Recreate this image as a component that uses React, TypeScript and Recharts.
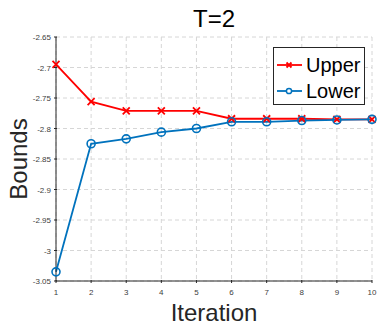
import { LineChart, Line, XAxis, YAxis, CartesianGrid, Legend, Label } from 'recharts'

/* ─── Data ─── */

const iterations = [1, 2, 3, 4, 5, 6, 7, 8, 9, 10]
const upperBound = [-2.695, -2.756, -2.771, -2.771, -2.771, -2.784, -2.784, -2.784, -2.785, -2.785]
const lowerBound = [-3.035, -2.825, -2.817, -2.806, -2.8, -2.789, -2.789, -2.787, -2.786, -2.785]
const seriesNames = ['Upper', 'Lower']
const xTicks = [1, 2, 3, 4, 5, 6, 7, 8, 9, 10]
const yTicks = [-3.05, -3, -2.95, -2.9, -2.85, -2.8, -2.75, -2.7, -2.65]

const data = iterations.map((it, i) => ({ it, upper: upperBound[i], lower: lowerBound[i] }))

/* ─── Styles ─── */

const FONT = '"Liberation Sans", Arial, Helvetica, sans-serif'
const AXIS = '#262626'
const RED = '#ff0000'
const BLUE = '#0072bd'

function fmtY(v: number): string {
  return String(Number(v.toFixed(2)))
}

/* ─── Ticks (inward, MATLAB style) ─── */

function LeftTick({ x, y, payload }: any) {
  return (
    <g>
      <line x1={x} y1={y} x2={x + 3} y2={y} stroke={AXIS} />
      <text x={x - 3} y={y} dy={3} textAnchor="end" fontSize={8} fontFamily={FONT} fill="#404040">
        {fmtY(payload.value)}
      </text>
    </g>
  )
}

function RightTick({ x, y }: any) {
  return <line x1={x - 3} y1={y} x2={x} y2={y} stroke={AXIS} />
}

function BottomTick({ x, y, payload }: any) {
  return (
    <g>
      <line x1={x} y1={y} x2={x} y2={y - 3} stroke={AXIS} />
      <text x={x} y={y} dy={12} textAnchor="middle" fontSize={8} fontFamily={FONT} fill="#404040">
        {payload.value}
      </text>
    </g>
  )
}

function TopTick({ x, y }: any) {
  return <line x1={x} y1={y} x2={x} y2={y + 3} stroke={AXIS} />
}

/* ─── Markers ─── */

function CrossDot({ cx, cy }: any) {
  if (cx == null || cy == null) return null
  const s = 3.5
  return (
    <path
      d={`M${cx - s},${cy - s}L${cx + s},${cy + s}M${cx - s},${cy + s}L${cx + s},${cy - s}`}
      stroke={RED}
      strokeWidth={1.8}
      fill="none"
    />
  )
}

/* ─── Legend ─── */

function LegendBox({ payload }: any) {
  const items = [...(payload || [])].sort(
    (a: any, b: any) => seriesNames.indexOf(a.value) - seriesNames.indexOf(b.value)
  )
  return (
    <div
      style={{
        width: 92,
        height: 58,
        boxSizing: 'border-box',
        border: `1px solid ${AXIS}`,
        background: '#fff',
        paddingTop: 4,
        fontFamily: FONT,
        fontSize: 20,
        color: '#000',
      }}
    >
      {items.map((p: any) => (
        <div key={p.value} style={{ display: 'flex', alignItems: 'center', height: 26 }}>
          <svg width={30} height={12} style={{ marginLeft: 2 }}>
            <line x1={1} y1={6} x2={26} y2={6} stroke={p.color} strokeWidth={1.8} />
            {p.value === 'Upper' ? (
              <path d="M10.5,3.5L15.5,8.5M10.5,8.5L15.5,3.5" stroke={p.color} strokeWidth={1.8} />
            ) : (
              <circle cx={13} cy={6} r={2.6} stroke={p.color} strokeWidth={1.5} fill="#fff" />
            )}
          </svg>
          <span style={{ lineHeight: '20px' }}>{p.value}</span>
        </div>
      ))}
    </div>
  )
}

/* ─── Main ─── */

export default function App() {
  return (
    <div style={{ position: 'absolute', left: 0, top: 0, width: 382, height: 327, background: '#fff' }}>
      <div
        style={{
          position: 'absolute',
          left: 56,
          width: 316,
          top: 6,
          textAlign: 'center',
          fontFamily: FONT,
          fontSize: 24,
          lineHeight: '26px',
          color: '#000',
          zIndex: 1,
        }}
      >
        T=2
      </div>
      <LineChart width={382} height={327} data={data} margin={{ top: 37, right: 10, bottom: 0, left: 0 }}>
        <CartesianGrid strokeDasharray="4 3" stroke="#d6d6d6" />
        <XAxis
          dataKey="it"
          type="number"
          domain={[1, 10]}
          ticks={xTicks}
          height={46}
          tickSize={0}
          tick={<BottomTick />}
          axisLine={{ stroke: AXIS }}
          tickLine={false}
        >
          <Label value="Iteration" position="insideBottom" offset={6} fontSize={24} fontFamily={FONT} fill="#262626" />
        </XAxis>
        <XAxis
          xAxisId="top"
          orientation="top"
          type="number"
          domain={[1, 10]}
          ticks={xTicks}
          height={0}
          tickSize={0}
          tick={<TopTick />}
          axisLine={{ stroke: AXIS }}
          tickLine={false}
        />
        <YAxis
          type="number"
          domain={[-3.05, -2.65]}
          ticks={yTicks}
          width={56}
          tickSize={0}
          tick={<LeftTick />}
          axisLine={{ stroke: AXIS }}
          tickLine={false}
        >
          <Label
            content={({ viewBox }: any) => {
              const cy = viewBox.y + viewBox.height / 2
              return (
                <text
                  x={27}
                  y={cy}
                  transform={`rotate(-90, 27, ${cy})`}
                  textAnchor="middle"
                  fontSize={24}
                  fontFamily={FONT}
                  fill="#262626"
                >
                  Bounds
                </text>
              )
            }}
          />
        </YAxis>
        <YAxis
          yAxisId="right"
          orientation="right"
          type="number"
          domain={[-3.05, -2.65]}
          ticks={yTicks}
          width={0}
          tickSize={0}
          tick={<RightTick />}
          axisLine={{ stroke: AXIS }}
          tickLine={false}
        />
        <Legend
          layout="vertical"
          align="center"
          verticalAlign="middle"
          content={<LegendBox />}
          wrapperStyle={{ left: 273, top: 47, width: 92, height: 58 }}
        />
        <Line
          name="Upper"
          dataKey="upper"
          stroke={RED}
          strokeWidth={1.8}
          dot={<CrossDot />}
          activeDot={false}
          isAnimationActive={false}
        />
        <Line
          name="Lower"
          dataKey="lower"
          stroke={BLUE}
          strokeWidth={1.8}
          dot={{ r: 4, stroke: BLUE, strokeWidth: 1.6, fill: 'none' }}
          activeDot={false}
          isAnimationActive={false}
        />
      </LineChart>
    </div>
  )
}
